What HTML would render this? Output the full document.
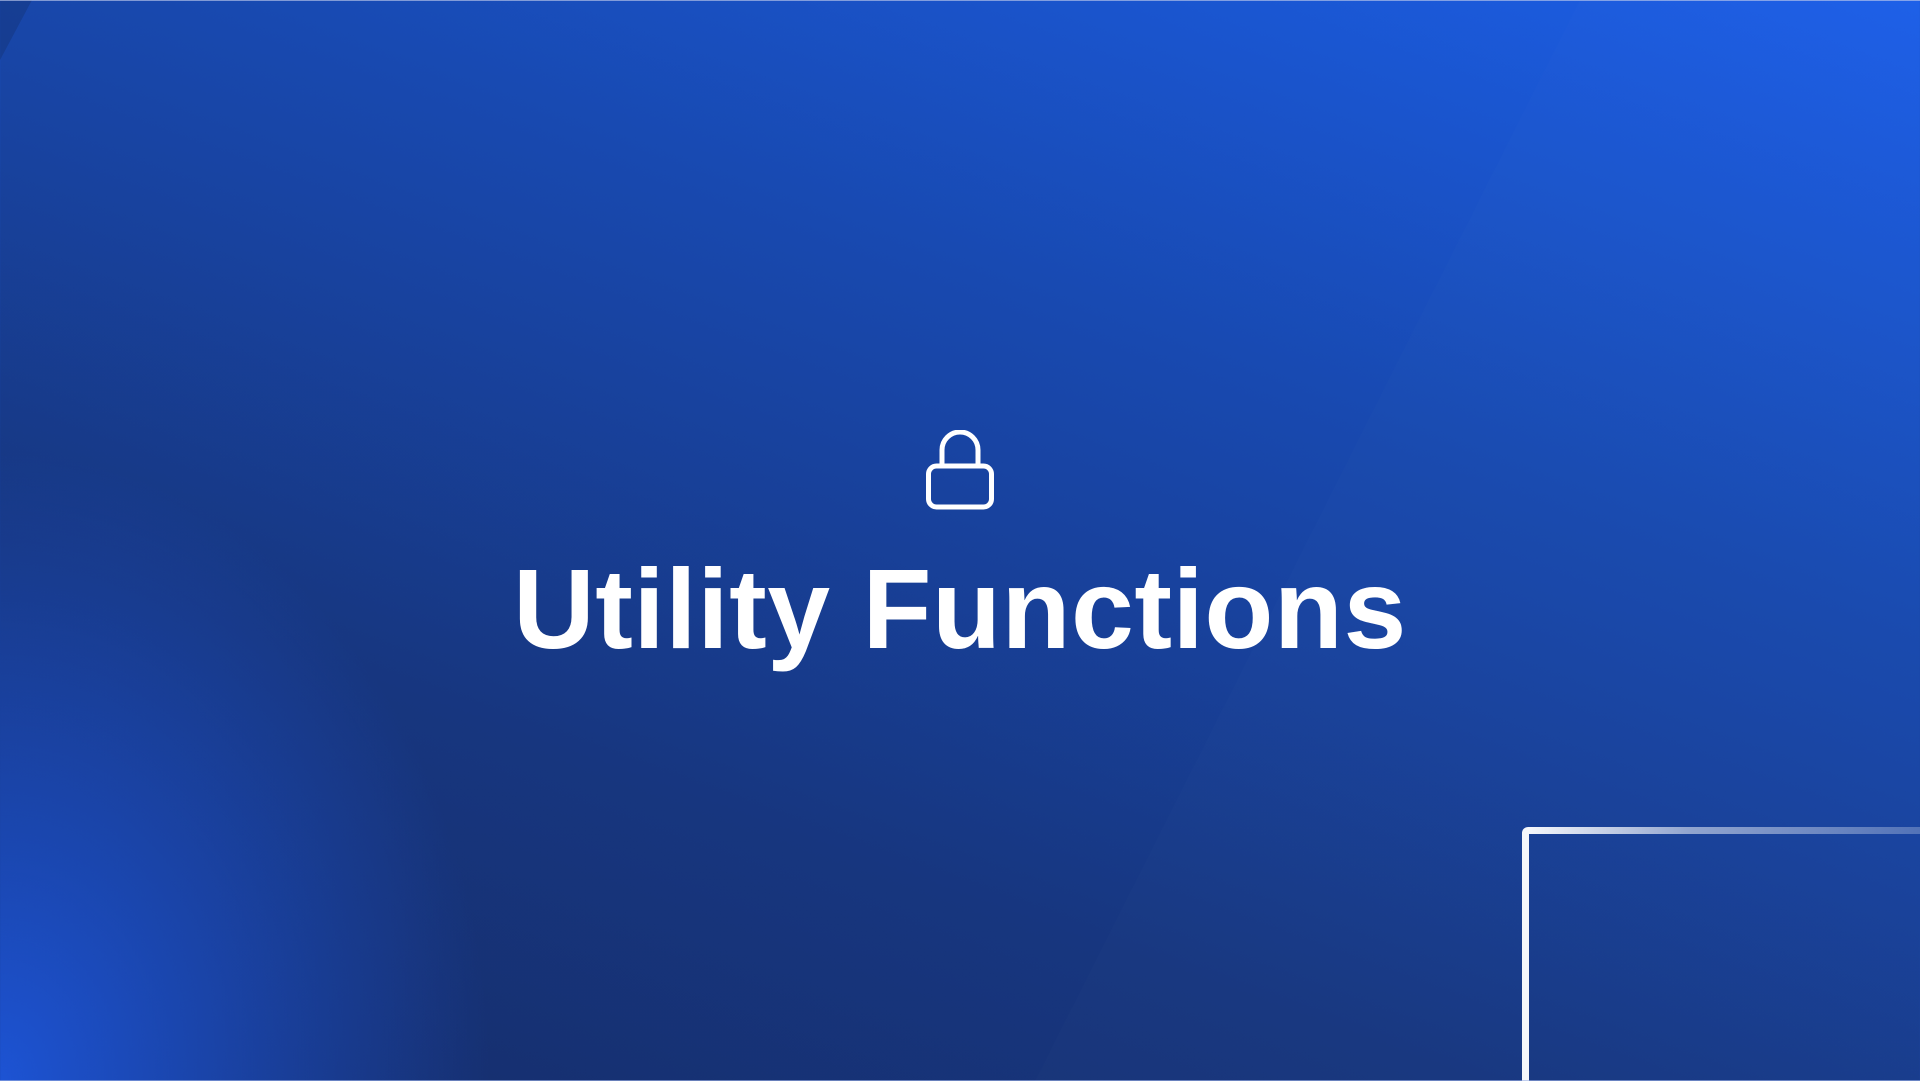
<!DOCTYPE html>
<html><head><meta charset="utf-8"><style>
html,body{margin:0;padding:0;width:1920px;height:1081px;overflow:hidden}
body{position:relative;
background:
 radial-gradient(ellipse 700px 900px at 0% 100%, rgba(30,90,230,0.85), rgba(30,90,230,0) 70%),
 linear-gradient(200deg,#1c5fe8 0%,#1849b0 35%,#17367f 70%,#162d6a 100%);}
.band{position:absolute;inset:0;background:rgba(255,255,255,0.012);
clip-path:polygon(1580px 0,1920px 0,1920px 1081px,1035px 1081px);}
.tl{position:absolute;left:0;top:0;width:0;height:0;border-top:60px solid rgba(20,50,120,0.45);border-right:32px solid transparent;}
.topline{position:absolute;left:0;top:0;width:1920px;height:1px;background:rgba(200,210,240,0.6)}
.botline{position:absolute;left:0;top:1080px;width:1920px;height:1px;background:rgba(160,180,230,0.6)}
.frame{position:absolute;left:1522px;top:827px;width:398px;height:254px;border-left:7px solid #f5f7fb;border-top-left-radius:6px;box-sizing:border-box}
.frame:before{content:"";position:absolute;left:0;top:0;width:398px;height:7px;background:linear-gradient(90deg,#f5f7fb,rgba(245,247,251,0.55) 40%,rgba(245,247,251,0.25));}
h1{position:absolute;left:0;width:1920px;top:542px;margin:0;text-align:center;color:#fff;
font:bold 113px/1.2 "Liberation Sans",sans-serif;letter-spacing:0.5px}
svg{position:absolute;left:920px;top:430px}
</style></head><body>
<div class="band"></div><div class="tl"></div><div class="topline"></div>
<svg width="80" height="85" viewBox="0 0 80 85"><g fill="none" stroke="#fff" stroke-width="5">
<path d="M22 35 V20 a18 18 0 0 1 36 0 V35"/>
<rect x="8.5" y="36" width="63" height="41" rx="8"/></g></svg>
<h1>Utility Functions</h1>
<div class="frame"></div><div class="botline"></div>
</body></html>
